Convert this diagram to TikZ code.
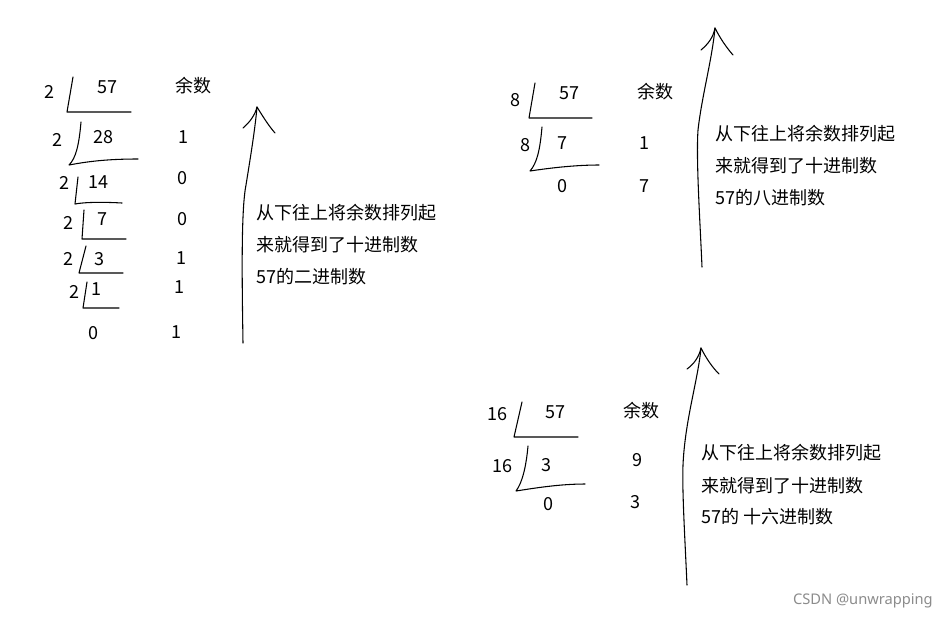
\documentclass[tikz,border=0pt]{standalone}
\usepackage{fontspec}
\setmainfont{Noto Sans CJK SC}
\newfontfamily\wmfont{Noto Sans}
\begin{document}
\begin{tikzpicture}[x=0.75pt,y=-0.75pt,
  pen/.style={line width=0.8pt, line cap=round, line join=round},
  t/.style={inner sep=0pt, font=\fontsize{13.5pt}{16pt}\selectfont},
  tl/.style={t, anchor=west},
  wm/.style={inner sep=0pt, anchor=east, text=black!45, font=\wmfont\fontsize{11pt}{13pt}\selectfont}]
\useasboundingbox (0,0) rectangle (949,619);
\fill[white] (0,0) rectangle (949,619);

% ---------- binary ----------
\node[t] (b2a) at (49,92) {2};
\node[t] (b57) at (107,87) {57};
\node[t] (byu) at (193,86) {余数};
\draw[pen] (73,77) -- (67,112) -- (131,112);

\node[t] (b2b) at (57,140) {2};
\node[t] (b28) at (103,137) {28};
\node[t] (br1) at (183,137) {1};
\draw[pen] (81,122) .. controls (79,145) and (76,158) .. (69,165) .. controls (90,161) and (110,159) .. (138,159);

\node[t] (b2c) at (64,183) {2};
\node[t] (b14) at (98,182) {14};
\node[t] (br2) at (182,178) {0};
\draw[pen] (78,177) -- (75,204) .. controls (85,202) and (105,202) .. (122,203);

\node[t] (b2d) at (68,223) {2};
\node[t] (b7) at (102,219) {7};
\node[t] (br3) at (182,219) {0};
\draw[pen] (84,210) -- (82,239) -- (126,239);

\node[t] (b2e) at (68,259) {2};
\node[t] (b3) at (99,259) {3};
\node[t] (br4) at (181,258) {1};
\draw[pen] (86,246) -- (79,273) -- (123,273);

\node[t] (b2f) at (74,292) {2};
\node[t] (b1) at (96,289) {1};
\node[t] (br5) at (179,287) {1};
\draw[pen] (87,282) -- (83,308) -- (119,308);

\node[t] (b0) at (93,333) {0};
\node[t] (br6) at (176,332) {1};

% arrow 1
\draw[pen] (243,343) .. controls (242,280) and (241,210) .. (246,185) .. controls (250,160) and (255,130) .. (257,107);
\draw[pen] (243,128) .. controls (250,122) and (255,115) .. (257,107) .. controls (262,115) and (268,125) .. (275,133);
\node[tl] (bt1) at (256,213) {从下往上将余数排列起};
\node[tl] (bt2) at (256,245) {来就得到了十进制数};
\node[tl] (bt3) at (256,277) {57的二进制数};

% ---------- octal ----------
\node[t] (o8a) at (515,100) {8};
\node[t] (o57) at (569,93) {57};
\node[t] (oyu) at (655,92) {余数};
\draw[pen] (535,83) -- (529,118) -- (592,118);

\node[t] (o8b) at (525,145) {8};
\node[t] (o7) at (562,143) {7};
\node[t] (or1) at (644,143) {1};
\draw[pen] (542,127) .. controls (540,150) and (537,163) .. (530,171) .. controls (550,168) and (575,165) .. (599,165);

\node[t] (o0) at (562,186) {0};
\node[t] (or2) at (644,186) {7};

% arrow 2
\draw[pen] (702,267) .. controls (700,220) and (696,160) .. (698,130) .. controls (702,95) and (712,60) .. (715,28);
\draw[pen] (701,50) .. controls (708,44) and (713,38) .. (715,28) .. controls (720,38) and (726,47) .. (733,55);
\node[tl] (ot1) at (715,134) {从下往上将余数排列起};
\node[tl] (ot2) at (715,166) {来就得到了十进制数};
\node[tl] (ot3) at (715,198) {57的八进制数};

% ---------- hexadecimal ----------
\node[t] (h16a) at (497,414) {16};
\node[t] (h57) at (555,412) {57};
\node[t] (hyu) at (641,411) {余数};
\draw[pen] (522,402) -- (514,437) -- (578,437);

\node[t] (h16b) at (502,466) {16};
\node[t] (h3) at (546,465) {3};
\node[t] (hr1) at (637,460) {9};
\draw[pen] (528,446) .. controls (526,468) and (522,483) .. (516,491) .. controls (535,488) and (560,484) .. (585,484);

\node[t] (h0) at (548,504) {0};
\node[t] (hr2) at (635,502) {3};

% arrow 3
\draw[pen] (687,585) .. controls (685,540) and (682,490) .. (683,465) .. controls (685,420) and (698,380) .. (701,348);
\draw[pen] (687,369) .. controls (694,364) and (699,357) .. (701,348) .. controls (706,358) and (712,367) .. (719,374);
\node[tl] (ht1) at (701,453) {从下往上将余数排列起};
\node[tl] (ht2) at (701,486) {来就得到了十进制数};
\node[tl] (ht3) at (701,517) {57的 十六进制数};

% watermark
\node[wm] (wmk) at (933,601) {CSDN @unwrapping};
\end{tikzpicture}
\end{document}
